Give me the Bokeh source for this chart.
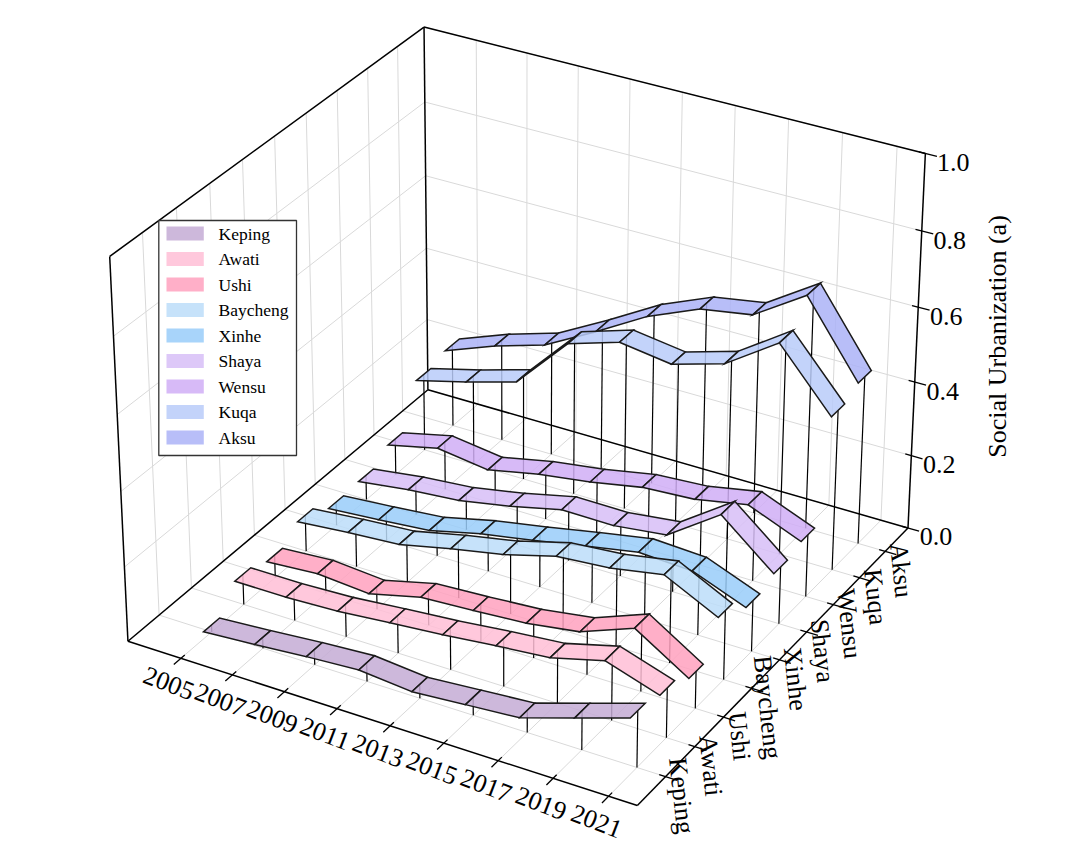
import numpy as np
from bokeh.plotting import figure
from bokeh.models import Range1d
from bokeh.embed import file_html
from bokeh.resources import INLINE
from bokeh.core.properties import value

# ---------------- data ----------------
years = [2005, 2007, 2009, 2011, 2013, 2015, 2017, 2019, 2021]
regions = ["Keping", "Awati", "Ushi", "Baycheng", "Xinhe", "Shaya", "Wensu", "Kuqa", "Aksu"]
keping   = [0.019, 0.029, 0.041, 0.050, 0.037, 0.048, 0.059, 0.104, 0.150]
awati    = [0.082, 0.082, 0.088, 0.101, 0.113, 0.128, 0.141, 0.178, 0.132]
ushi     = [0.062, 0.072, 0.061, 0.095, 0.103, 0.113, 0.134, 0.188, 0.099]
baycheng = [0.099, 0.112, 0.122, 0.153, 0.180, 0.218, 0.230, 0.255, 0.185]
xinhe    = [0.064, 0.075, 0.088, 0.121, 0.146, 0.173, 0.199, 0.192, 0.137]
shaya    = [0.068, 0.087, 0.099, 0.125, 0.157, 0.156, 0.173, 0.270, 0.154]
wensu    = [0.100, 0.132, 0.113, 0.142, 0.162, 0.189, 0.198, 0.225, 0.168]
kuqa     = [0.212, 0.247, 0.287, 0.430, 0.473, 0.453, 0.494, 0.588, 0.432]
aksu     = [0.228, 0.280, 0.322, 0.397, 0.477, 0.535, 0.558, 0.648, 0.454]
series = [keping, awati, ushi, baycheng, xinhe, shaya, wensu, kuqa, aksu]
colors = ["#CDB8DB", "#FFC8DC", "#FFAFC8", "#C6E2FA", "#A8D4FA",
          "#DDC8F8", "#D7BAF7", "#C3D3FA", "#B8BEF8"]
x_tick_labels = [str(y) for y in years]
z_ticks = [0.0, 0.2, 0.4, 0.6, 0.8, 1.0]
z_tick_labels = ["0.0", "0.2", "0.4", "0.6", "0.8", "1.0"]
z_label = "Social Urbanization (a)"

# ---------------- layout / camera ----------------
W, H = 1064, 848
FONT = value("Liberation Serif")
ALPHA = 0.85
HALF_W = 0.25  # ribbon half width (category units)

# screen position of the box corners (unit cube coordinates)
corner_px = [((0, 0, 0), (127.5, 641.0)), ((1, 0, 0), (636.7, 805.0)),
             ((1, 1, 0), (907.5, 527.5)), ((0, 1, 0), (427.5, 389.0)),
             ((0, 0, 1), (109.3, 255.7)), ((0, 1, 1), (423.3, 26.7)),
             ((1, 1, 1), (925.0, 153.0))]
rows, rhs = [], []
for (X, Y, Z), (u, v) in corner_px:
    rows.append([X, Y, Z, 1, 0, 0, 0, 0, -u * X, -u * Y, -u * Z]); rhs.append(u)
    rows.append([0, 0, 0, 0, X, Y, Z, 1, -v * X, -v * Y, -v * Z]); rhs.append(v)
sol = np.linalg.lstsq(np.array(rows, float), np.array(rhs, float), rcond=None)[0]
P = np.append(sol, 1.0).reshape(3, 4)


def proj_n(X, Y, Z):
    X, Y, Z = np.broadcast_arrays(np.asarray(X, float), np.asarray(Y, float), np.asarray(Z, float))
    h = np.stack([X, Y, Z, np.ones_like(X)], -1) @ P.T
    return h[..., 0] / h[..., 2], h[..., 1] / h[..., 2]


tgrid = np.linspace(-0.4, 1.4, 18001)


def locate(fn, target):
    sx, sy = fn(tgrid)
    return tgrid[np.argmin((sx - target[0]) ** 2 + (sy - target[1]) ** 2)]


# axis limits from where the end ticks sit on the axis lines
t1 = locate(lambda t: proj_n(t, 0, 0), (180.0, 659.0))
t2 = locate(lambda t: proj_n(t, 0, 0), (608.0, 796.0))
xs_ = (years[-1] - years[0]) / (t2 - t1)
xmin = years[0] - t1 * xs_
xmax = xmin + xs_
s1 = locate(lambda t: proj_n(1, t, 0), (666.0, 777.0))
s2 = locate(lambda t: proj_n(1, t, 0), (887.0, 553.0))
ys_ = (len(regions) - 1) / (s2 - s1)
ymin = 0 - s1 * ys_
ymax = ymin + ys_
zmin, zmax = 0.0, 1.0


def nx(x): return (np.asarray(x, float) - xmin) / (xmax - xmin)
def ny(y): return (np.asarray(y, float) - ymin) / (ymax - ymin)
def nz(z): return (np.asarray(z, float) - zmin) / (zmax - zmin)


def proj(x, y, z):
    sx, sy = proj_n(nx(x), ny(y), nz(z))
    return sx, -sy


p = figure(width=W, height=H, x_range=Range1d(0, W), y_range=Range1d(-H, 0),
           output_backend="svg", toolbar_location=None, x_axis_type=None, y_axis_type=None,
           min_border=0)
p.outline_line_color = None
p.background_fill_color = "white"
p.border_fill_color = "white"


def seg_n(a, b):
    x1, y1 = proj_n(*a)
    x2, y2 = proj_n(*b)
    return [float(x1), float(x2)], [-float(y1), -float(y2)]


# ---------------- grid ----------------
gx, gy = [], []
for yr in years:
    X = float(nx(yr))
    for a, b in [((X, 0, 0), (X, 1, 0)), ((X, 1, 0), (X, 1, 1))]:
        sx, sy = seg_n(a, b); gx.append(sx); gy.append(sy)
for j in range(len(regions)):
    Y = float(ny(j))
    for a, b in [((0, Y, 0), (1, Y, 0)), ((0, Y, 0), (0, Y, 1))]:
        sx, sy = seg_n(a, b); gx.append(sx); gy.append(sy)
for zt in z_ticks:
    Z = float(nz(zt))
    for a, b in [((0, 1, Z), (1, 1, Z)), ((0, 0, Z), (0, 1, Z))]:
        sx, sy = seg_n(a, b); gx.append(sx); gy.append(sy)
p.multi_line(gx, gy, line_color="#d9d9d9", line_width=1.0)

# ---------------- box edges ----------------
edges = [((0, 0, 0), (1, 0, 0)), ((1, 0, 0), (1, 1, 0)), ((1, 1, 0), (1, 1, 1)),
         ((0, 0, 0), (0, 1, 0)), ((0, 1, 0), (1, 1, 0)), ((0, 1, 0), (0, 1, 1)),
         ((0, 1, 1), (1, 1, 1)), ((0, 1, 1), (0, 0, 1)), ((0, 0, 1), (0, 0, 0))]
ex, ey = [], []
for a, b in edges:
    sx, sy = seg_n(a, b); ex.append(sx); ey.append(sy)
p.multi_line(ex, ey, line_color="black", line_width=1.5)

# ---------------- ticks ----------------
tx, ty = [], []
for yr in years:
    X = float(nx(yr))
    sx, sy = seg_n((X, 0.012, 0), (X, -0.022, 0)); tx.append(sx); ty.append(sy)
for j in range(len(regions)):
    Y = float(ny(j))
    sx, sy = seg_n((0.988, Y, 0), (1.022, Y, 0)); tx.append(sx); ty.append(sy)
for zt in z_ticks:
    Z = float(nz(zt))
    sx, sy = seg_n((0.988, 1, Z), (1.022, 1, Z)); tx.append(sx); ty.append(sy)
p.multi_line(tx, ty, line_color="black", line_width=1.3)

# tick labels
lx, ly = proj(years, ymin, 0)
p.text(x=list(lx - 12), y=list(ly - 25), text=x_tick_labels, angle=np.deg2rad(-21),
       text_align="center", text_baseline="middle", text_font=FONT,
       text_font_size="26px", text_color="black")
cx, cy = proj(xmax, np.arange(len(regions)), 0)
p.text(x=list(cx + 16), y=list(cy - 19), text=regions, angle=np.deg2rad(-84),
       text_align="center", text_baseline="middle", text_font=FONT,
       text_font_size="26px", text_color="black")
zx, zy = proj(xmax, ymax, np.array(z_ticks))
p.text(x=list(zx + 28), y=list(zy - 9), text=z_tick_labels,
       text_align="center", text_baseline="middle", text_font=FONT,
       text_font_size="26px", text_color="black")
p.text(x=[997], y=[-336], text=[z_label], angle=np.pi / 2,
       text_align="center", text_baseline="middle", text_font=FONT,
       text_font_size="26px", text_color="black")


# ---------------- ribbons + stems ----------------
def base_color(hexc, a):
    c = np.array([int(hexc[i:i + 2], 16) for i in (1, 3, 5)], float)
    b = np.clip((c - (1 - a) * 255) / a, 0, 255).round().astype(int)
    return "#%02x%02x%02x" % tuple(b)


for j in range(len(regions) - 1, -1, -1):
    vals = series[j]
    sxs, sys_ = [], []
    for i, yr in enumerate(years):
        x0, y0 = proj(yr, j, 0)
        x1, y1 = proj(yr, j, vals[i])
        sxs.append([float(x0), float(x1)]); sys_.append([float(y0), float(y1)])
    p.multi_line(sxs, sys_, line_color="black", line_width=1.2)
    pxs, pys = [], []
    for i in range(len(years) - 1):
        xa, ya = proj([years[i], years[i + 1], years[i + 1], years[i]],
                      [j - HALF_W, j - HALF_W, j + HALF_W, j + HALF_W],
                      [vals[i], vals[i + 1], vals[i + 1], vals[i]])
        pxs.append(list(map(float, xa))); pys.append(list(map(float, ya)))
    p.patches(pxs, pys, fill_color=base_color(colors[j], ALPHA), fill_alpha=ALPHA,
              line_color="#1a1a1a", line_width=1.5, line_join="miter")

# ---------------- legend ----------------
p.quad(left=[158.3], right=[296.0], top=[-220.0], bottom=[-455.0],
       fill_color="white", line_color="#333333", line_width=1.3)
row_c = 233.0 + 25.5 * np.arange(len(regions))
p.quad(left=[166.0] * len(regions), right=[203.3] * len(regions),
       top=list(-(row_c - 7)), bottom=list(-(row_c + 7)),
       fill_color=[base_color(c, ALPHA) for c in colors], fill_alpha=ALPHA, line_color=None)
p.text(x=[218.0] * len(regions), y=list(-row_c), text=regions,
       text_align="left", text_baseline="middle", text_font=FONT,
       text_font_size="17.5px", text_color="black")

open("out.html", "w").write(file_html(p, INLINE))
